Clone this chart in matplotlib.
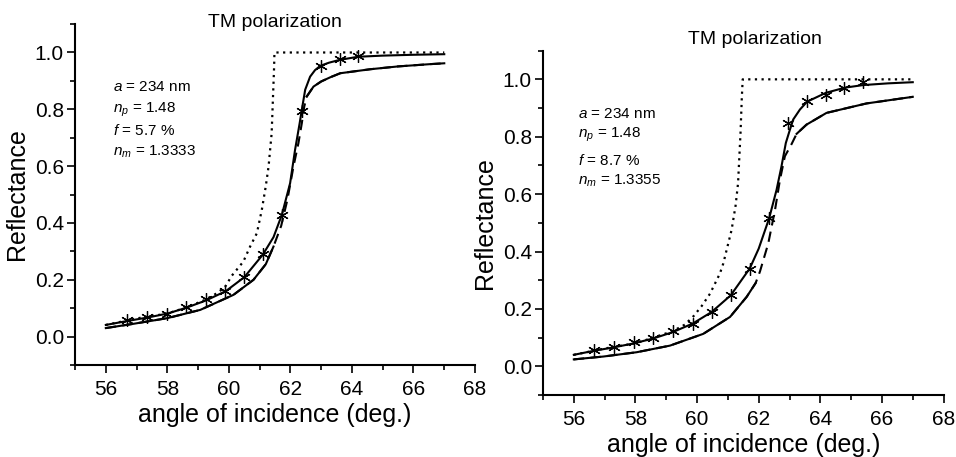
import matplotlib
matplotlib.use('Agg')
import matplotlib.pyplot as plt
import numpy as np

plt.rcParams['font.family'] = ['Liberation Sans', 'DejaVu Sans']
plt.rcParams['mathtext.fontset'] = 'custom'
plt.rcParams['mathtext.rm'] = 'Liberation Sans'
plt.rcParams['mathtext.it'] = 'Liberation Sans:italic'

# ---- left panel (f = 5.7 %) ----
L_star_x = [56.70, 57.35, 57.98, 58.61, 59.24, 59.87, 60.50, 61.12, 61.72, 62.39, 62.99, 63.60, 64.19]
L_star_y = [0.058, 0.070, 0.081, 0.105, 0.131, 0.162, 0.211, 0.291, 0.427, 0.795, 0.951, 0.976, 0.987]

L_fit_x = [56.0, 56.7, 57.35, 58.0, 58.6, 59.25, 59.9, 60.5, 61.1, 61.45, 61.72, 61.99, 62.15,
           62.3, 62.37, 62.48, 62.64, 62.8, 62.97, 63.25, 63.6, 64.2, 65.0, 66.0, 67.0]
L_fit_y = [0.041, 0.055, 0.067, 0.081, 0.101, 0.127, 0.160, 0.209, 0.288, 0.35, 0.428, 0.54, 0.657,
           0.751, 0.798, 0.869, 0.915, 0.938, 0.953, 0.964, 0.974, 0.985, 0.989, 0.992, 0.994]

L_low_x = [56.0, 56.9, 58.0, 59.07, 60.15, 60.8, 61.2, 61.45, 61.7, 61.9, 62.1, 62.26, 62.37,
           62.45, 62.53, 62.75, 63.0, 63.3, 63.62, 64.59, 65.5, 66.54, 67.0]
L_low_y = [0.030, 0.045, 0.065, 0.094, 0.147, 0.200, 0.255, 0.317, 0.39, 0.481, 0.599, 0.681, 0.751,
           0.81, 0.845, 0.88, 0.898, 0.913, 0.927, 0.941, 0.951, 0.959, 0.962]
L_dash = (61.45, 62.53)

L_dot_x = [56.0, 57.0, 58.0, 58.6, 59.2, 59.6, 59.87, 60.1, 60.47, 60.69, 60.91, 61.07, 61.2,
           61.29, 61.39, 61.43, 61.47, 61.48, 67.0]
L_dot_y = [0.041, 0.064, 0.081, 0.102, 0.128, 0.152, 0.174, 0.215, 0.264, 0.317, 0.364, 0.446, 0.53,
           0.599, 0.716, 0.833, 0.95, 1.0, 1.0]

L_text = [r'$a$ = 234 nm', r'$n_p$ = 1.48', r'$f$ = 5.7 %', r'$n_m$ = 1.3333']

# ---- right panel (f = 8.7 %) ----
R_star_x = [56.65, 57.30, 57.95, 58.58, 59.21, 59.86, 60.47, 61.10, 61.71, 62.34, 62.94, 63.56,
            64.18, 64.77, 65.40]
R_star_y = [0.057, 0.068, 0.084, 0.100, 0.122, 0.149, 0.190, 0.247, 0.340, 0.516, 0.848, 0.924,
            0.945, 0.971, 0.990]

R_fit_x = [56.0, 56.65, 57.3, 57.95, 58.58, 59.21, 59.86, 60.47, 61.09, 61.71, 62.0, 62.34, 62.58,
           62.74, 62.88, 63.0, 63.12, 63.34, 63.57, 64.18, 64.8, 65.39, 66.2, 67.0]
R_fit_y = [0.040, 0.054, 0.066, 0.080, 0.097, 0.119, 0.149, 0.189, 0.247, 0.341, 0.41, 0.516, 0.615,
           0.697, 0.778, 0.82, 0.86, 0.895, 0.922, 0.953, 0.971, 0.980, 0.986, 0.990]

R_low_x = [56.0, 56.96, 58.04, 59.12, 60.2, 61.07, 61.61, 61.9, 62.04, 62.31, 62.53, 62.69, 62.85,
           63.07, 63.23, 63.55, 64.2, 65.5, 67.0]
R_low_y = [0.024, 0.034, 0.049, 0.072, 0.113, 0.172, 0.242, 0.29, 0.33, 0.428, 0.545, 0.65, 0.732,
           0.775, 0.81, 0.842, 0.883, 0.916, 0.939]
R_dash = (61.9, 63.23)

R_dot_x = [56.0, 57.0, 58.0, 58.58, 59.2, 59.6, 59.88, 60.15, 60.42, 60.74, 60.85, 61.12, 61.25,
           61.33, 61.41, 61.45, 61.48, 67.0]
R_dot_y = [0.040, 0.062, 0.080, 0.100, 0.122, 0.145, 0.174, 0.21, 0.253, 0.323, 0.358, 0.475, 0.56,
           0.638, 0.813, 0.93, 1.0, 1.0]

R_text = [r'$a$ = 234 nm', r'$n_p$ = 1.48', r'$f$ = 8.7 %', r'$n_m$ = 1.3355']


def panel(ax, sx, sy, fx, fy, lx, ly, dash, dx, dy, lines, text_x, text_y, title_pos):
    lx = np.array(lx)
    ly = np.array(ly)
    ax.plot(dx, dy, color='k', lw=1.6, linestyle=(0, (1, 2)))
    ax.plot(fx, fy, color='k', lw=1.5)
    ax.plot(lx, ly, color='k', lw=1.5, linestyle=(0, (5, 3)))
    lo = lx <= dash[0]
    hi = lx >= dash[1]
    ax.plot(lx[lo], ly[lo], color='k', lw=1.5)
    ax.plot(lx[hi], ly[hi], color='k', lw=1.5)
    ax.plot(sx, sy, linestyle='none', marker=(6, 2, 0), ms=9, mew=0.9, color='k')

    for i, s in enumerate(lines):
        ax.text(text_x, text_y[i], s, fontsize=11, ha='left', va='baseline')

    ax.text(title_pos[0], title_pos[1], 'TM polarization', fontsize=14,
            ha='center', va='center', transform=ax.transAxes)

    ax.set_xlim(55, 68)
    ax.set_ylim(-0.1, 1.1)
    ax.set_xticks(np.arange(56, 69, 2))
    ax.set_xticks(np.arange(55, 69, 1), minor=True)
    ax.set_yticks(np.arange(0, 1.01, 0.2))
    ax.set_yticks(np.arange(-0.1, 1.11, 0.1), minor=True)
    ax.yaxis.set_major_formatter(matplotlib.ticker.FormatStrFormatter('%.1f'))
    ax.spines['top'].set_visible(False)
    ax.spines['right'].set_visible(False)
    for sp in ('left', 'bottom'):
        ax.spines[sp].set_linewidth(1.5)
    ax.tick_params(which='major', direction='out', length=6, width=1.2, labelsize=15, pad=2)
    ax.tick_params(which='minor', direction='out', length=3.5, width=1.2)
    ax.tick_params(axis='x', which='major', pad=5)
    ax.set_xlabel('angle of incidence (deg.)', fontsize=18, labelpad=3)
    ax.set_ylabel('Reflectance', fontsize=18, labelpad=4)


fig = plt.figure(figsize=(9.56, 4.57), dpi=100)
ax1 = fig.add_axes([0.0785, 0.2013, 0.4184, 0.746])
ax2 = fig.add_axes([0.568, 0.1357, 0.419, 0.7535])

panel(ax1, L_star_x, L_star_y, L_fit_x, L_fit_y, L_low_x, L_low_y, L_dash, L_dot_x, L_dot_y,
      L_text, 56.23, [0.863, 0.789, 0.710, 0.636], (0.5, 1.004))
panel(ax2, R_star_x, R_star_y, R_fit_x, R_fit_y, R_low_x, R_low_y, R_dash, R_dot_x, R_dot_y,
      R_text, 56.13, [0.866, 0.796, 0.702, 0.632], (0.529, 1.031))

fig.savefig('out.png', dpi=100)
